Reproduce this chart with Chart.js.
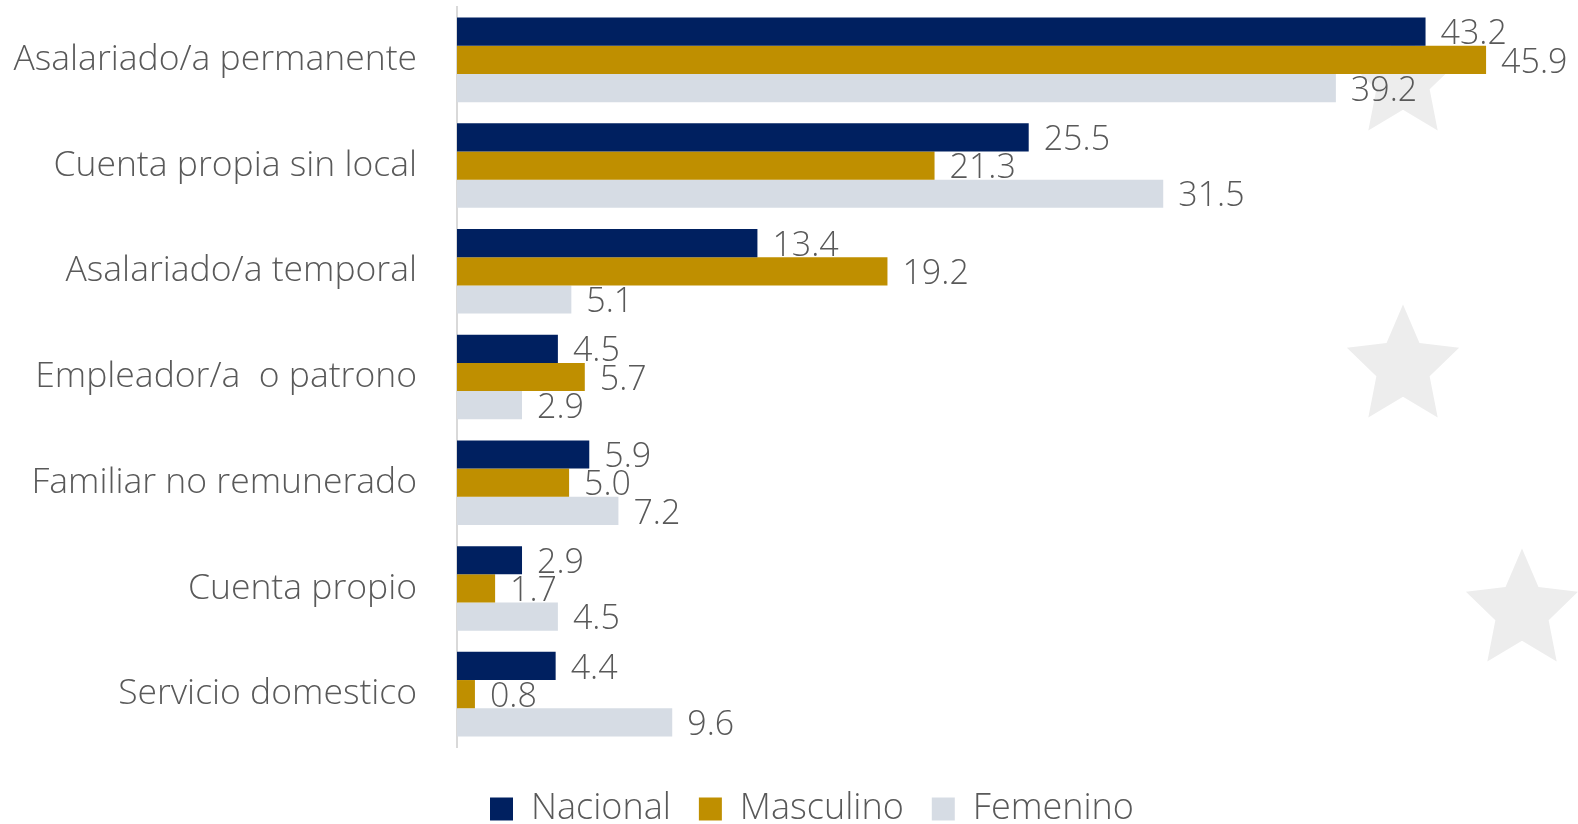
<!DOCTYPE html>
<html lang="es">
<head>
<meta charset="utf-8">
<title>Categoría ocupacional</title>
<script src="https://cdn.jsdelivr.net/npm/chart.js@4.4.1/dist/chart.umd.min.js"></script>
<style>
  html, body { margin: 0; padding: 0; background: #fff; }
  #wrap { width: 1578px; height: 824px; position: relative; }
</style>
</head>
<body>
<div id="wrap"><canvas id="chart"></canvas></div>
<script>
/* ─── Data ───────────────────────────────────────────── */

const categories = [
  'Asalariado/a permanente',
  'Cuenta propia sin local',
  'Asalariado/a temporal',
  'Empleador/a  o patrono',
  'Familiar no remunerado',
  'Cuenta propio',
  'Servicio domestico'
];

const nacional  = [43.2, 25.5, 13.4, 4.5, 5.9, 2.9, 4.4];
const masculino = [45.9, 21.3, 19.2, 5.7, 5.0, 1.7, 0.8];
const femenino  = [39.2, 31.5,  5.1, 2.9, 7.2, 4.5, 9.6];

const seriesNames = ['Nacional', 'Masculino', 'Femenino'];
const colors      = ['#002060', '#BF8F00', '#D6DCE4'];

const FONT = '"Open Sans", "Noto Sans", sans-serif';
const TEXT = '#595959';

// faint stars in the background (decoration only)
const starPlugin = {
  id: 'stars',
  beforeDatasetsDraw(chart) {
    const ctx = chart.ctx;
    const stars = [[1403, 80], [1403, 367], [1522, 611]];
    ctx.save();
    ctx.fillStyle = '#EDEDED';
    stars.forEach(([cx, cy]) => {
      const R = 59, r = 28;
      ctx.beginPath();
      for (let i = 0; i < 10; i++) {
        const rad = i % 2 === 0 ? R : r;
        const a = -Math.PI / 2 + i * Math.PI / 5;
        const x = cx + rad * Math.cos(a);
        const y = cy + rad * Math.sin(a) * 1.06;
        if (i === 0) ctx.moveTo(x, y); else ctx.lineTo(x, y);
      }
      ctx.closePath();
      ctx.fill();
    });
    ctx.restore();
  }
};

// value labels at the end of each bar
const valueLabels = {
  id: 'valueLabels',
  afterDatasetsDraw(chart) {
    const ctx = chart.ctx;
    ctx.save();
    ctx.font = '300 34px ' + FONT;
    ctx.fillStyle = TEXT;
    ctx.textAlign = 'left';
    ctx.textBaseline = 'middle';
    chart.data.datasets.forEach((ds, i) => {
      chart.getDatasetMeta(i).data.forEach((bar, j) => {
        ctx.fillText(ds.data[j].toFixed(1), bar.x + 15, bar.y + 3);
      });
    });
    ctx.restore();
  }
};

// nudge the legend a bit right and down, like the original
const legendNudge = {
  id: 'legendNudge',
  afterLayout(chart) {
    const lg = chart.legend;
    lg.left += 46;
    lg.top += 16;
    lg.bottom += 16;
  }
};

new Chart(document.getElementById('chart'), {
  type: 'bar',
  data: {
    labels: categories,
    datasets: [nacional, masculino, femenino].map((d, i) => ({
      label: seriesNames[i],
      data: d,
      backgroundColor: colors[i],
      borderWidth: 0,
      categoryPercentage: 0.8,
      barPercentage: 1.0
    }))
  },
  options: {
    indexAxis: 'y',
    responsive: true,
    maintainAspectRatio: false,
    animation: false,
    layout: { padding: { top: 7, right: 0, bottom: 3, left: 0 } },
    scales: {
      x: { display: false, min: 0, max: 50 },
      y: {
        grid: { display: false, drawTicks: false },
        border: { display: true, color: '#D9D9D9', width: 2 },
        ticks: { color: TEXT, padding: 40, font: { family: FONT, size: 35.5, weight: '300' } },
        afterFit: s => {
          s.width = 457;
          s.paddingTop = 0;
          s.paddingBottom = 0;
        }
      }
    },
    plugins: {
      legend: {
        position: 'bottom',
        labels: {
          color: TEXT,
          boxWidth: 23,
          boxHeight: 23,
          padding: 28,
          font: { family: FONT, size: 36, weight: '300' }
        }
      },
      tooltip: { enabled: false }
    }
  },
  plugins: [starPlugin, valueLabels, legendNudge]
});
</script>
</body>
</html>
